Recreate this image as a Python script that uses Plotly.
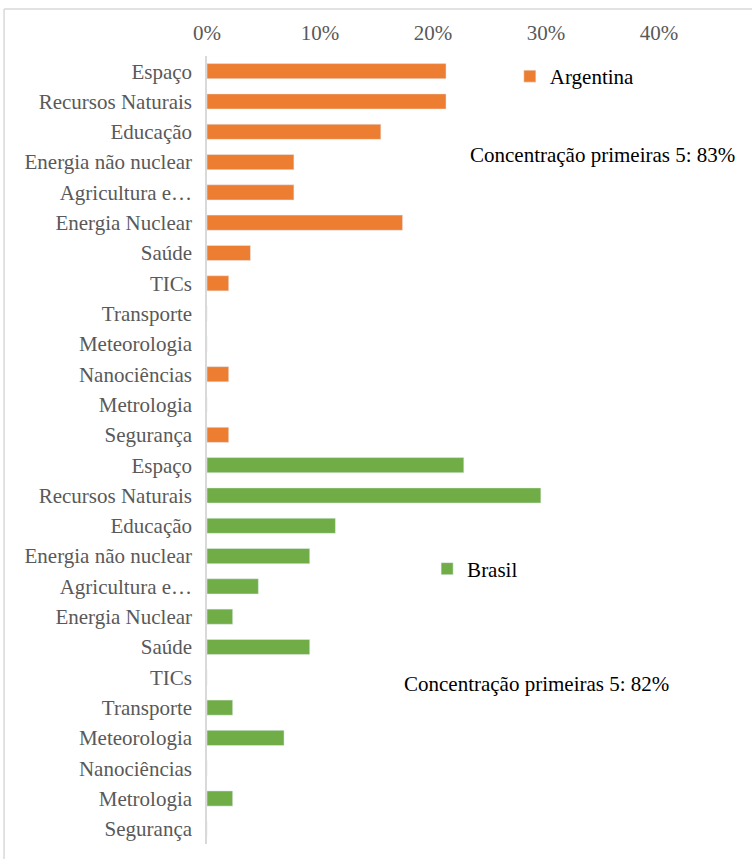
import plotly.graph_objects as go

categories = ["Espaço", "Recursos Naturais", "Educação", "Energia não nuclear", "Agricultura e…",
              "Energia Nuclear", "Saúde", "TICs", "Transporte", "Meteorologia",
              "Nanociências", "Metrologia", "Segurança"]
argentina = [11/52, 11/52, 8/52, 4/52, 4/52, 9/52, 2/52, 1/52, 0, 0, 1/52, 0, 1/52]
brasil = [10/44, 13/44, 5/44, 4/44, 2/44, 1/44, 4/44, 0, 1/44, 3/44, 0, 1/44, 0]
x_ticks = [0, 0.1, 0.2, 0.3, 0.4]
x_ticklabels = ["0%", "10%", "20%", "30%", "40%"]
note_arg = "Concentração primeiras 5: 83%"
note_bra = "Concentração primeiras 5: 82%"

n = len(categories)
pos_arg = list(range(n))
pos_bra = list(range(n, 2 * n))

FONT = "Liberation Serif"
FS = 21
fig = go.Figure()
fig.add_trace(go.Bar(y=pos_arg, x=argentina, orientation="h", name="Argentina",
                     marker=dict(color="#ED7D31"), width=0.5, legend="legend", showlegend=True))
fig.add_trace(go.Bar(y=pos_bra, x=brasil, orientation="h", name="Brasil",
                     marker=dict(color="#70AD47"), width=0.5, legend="legend2", showlegend=True))

fig.update_layout(
    width=752, height=859,
    showlegend=True,
    margin=dict(l=207, r=93, t=56, b=15, autoexpand=False),
    paper_bgcolor="white", plot_bgcolor="white",
    font=dict(family=FONT, size=FS, color="#595959"),
    xaxis=dict(side="top", range=[0, 0.4], tickvals=x_ticks, ticktext=x_ticklabels,
               showgrid=False, zeroline=False, showline=False, ticks="", automargin=False,
               ticklabelstandoff=11, tickfont=dict(family=FONT, size=FS, color="#595959")),
    yaxis=dict(tickvals=pos_arg + pos_bra, ticktext=categories + categories,
               range=[2 * n - 0.5, -0.5], showgrid=False, zeroline=False, automargin=False,
               showline=True, linecolor="#d9d9d9", linewidth=1.5, ticks="",
               ticklabelstandoff=9, tickfont=dict(family=FONT, size=FS, color="#595959")),
    legend=dict(x=0.67, y=0.974, xanchor="left", yanchor="middle",
                font=dict(size=FS, color="black", family=FONT), bgcolor="rgba(0,0,0,0)"),
    legend2=dict(x=0.487, y=0.349, xanchor="left", yanchor="middle",
                 font=dict(size=FS, color="black", family=FONT), bgcolor="rgba(0,0,0,0)"),
    annotations=[
        dict(text=note_arg, x=0.874, y=0.874, xref="paper", yref="paper", showarrow=False,
             xanchor="center", yanchor="middle", font=dict(size=FS, color="black", family=FONT)),
        dict(text=note_bra, x=0.729, y=0.203, xref="paper", yref="paper", showarrow=False,
             xanchor="center", yanchor="middle", font=dict(size=FS, color="black", family=FONT)),
    ],
    shapes=[
        dict(type="line", xref="paper", yref="paper", x0=-0.449, x1=1.3, y0=1.0596, y1=1.0596,
             line=dict(color="#d9d9d9", width=1.5)),
        dict(type="line", xref="paper", yref="paper", x0=-0.449, x1=-0.449, y0=1.0596, y1=-0.1,
             line=dict(color="#d9d9d9", width=1.5)),
    ],
)

fig.write_html("out.html", config={"displayModeBar": False},
               post_script="document.body.style.margin='0';")
